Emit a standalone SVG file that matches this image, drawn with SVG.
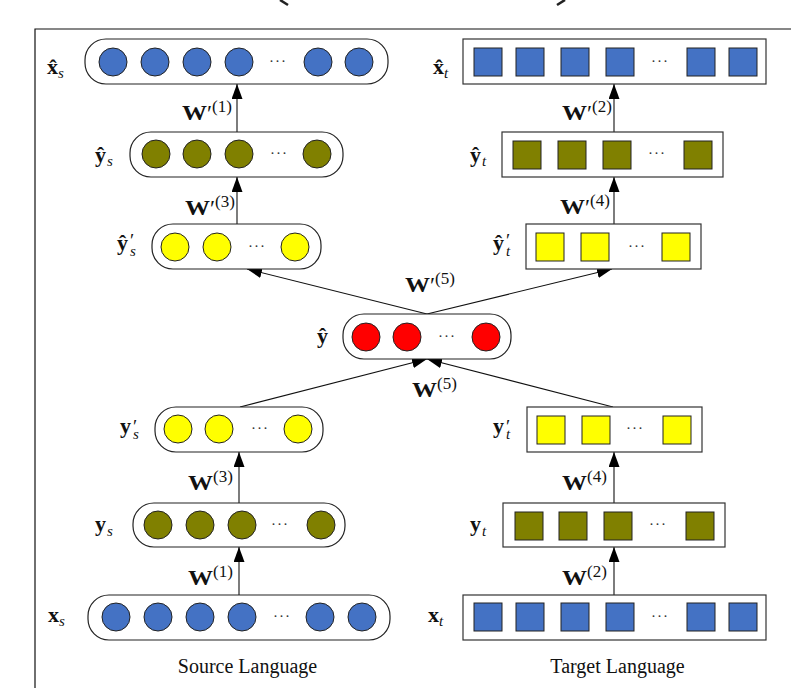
<svg xmlns="http://www.w3.org/2000/svg" width="791" height="688" viewBox="0 0 791 688">
<defs>
<style>
.pill{fill:#fff;stroke:#222;stroke-width:1.2}
.box{fill:#fff;stroke:#333;stroke-width:1.2}
.u{stroke:#222;stroke-width:1}
.blue{fill:#4472C4}
.olive{fill:#808000}
.yellow{fill:#FFFF00}
.red{fill:#FF0000}
.dots{font-family:"Liberation Serif",serif;font-size:15px;fill:#333;text-anchor:middle;letter-spacing:1px}
.lbl{font-family:"Liberation Serif",serif;font-weight:bold;font-size:22px;fill:#111}
.sub{font-style:italic;font-weight:normal;font-size:15px}
.pr{font-weight:normal;font-size:19px}
.w{font-family:"Liberation Serif",serif;font-weight:bold;font-size:22px;fill:#111}
.wp{font-family:"Liberation Serif",serif;font-size:23px;fill:#111}
.ws{font-family:"Liberation Serif",serif;font-size:17px;fill:#111}
.edge{stroke:#111;stroke-width:1.1;fill:none;marker-end:url(#ah)}
.cap{font-family:"Liberation Serif",serif;font-size:20px;fill:#111;text-anchor:middle}
</style>
<marker id="ah" viewBox="0 0 15 11" refX="15" refY="5.5" markerWidth="15" markerHeight="11" markerUnits="userSpaceOnUse" orient="auto">
<path d="M0,0 L15,5.5 L0,11 z" fill="#000"/>
</marker>
</defs>
<rect width="791" height="688" fill="#fff"/>
<g id="frame">
<path d="M791,29 H35 V688" fill="none" stroke="#111" stroke-width="1.2"/>
<path d="M280,0 L288,5" stroke="#222" stroke-width="2.6" fill="none"/>
<path d="M565,0 L557,5" stroke="#222" stroke-width="2.6" fill="none"/>
</g>

<g id="connectors">
<line class="edge" x1="237" y1="132" x2="237" y2="84"/>
<line class="edge" x1="614" y1="132" x2="614" y2="84"/>
<line class="edge" x1="237" y1="224" x2="237" y2="177"/>
<line class="edge" x1="614" y1="224" x2="614" y2="177"/>
<line class="edge" x1="427" y1="314" x2="247" y2="269"/>
<line class="edge" x1="427" y1="314" x2="612" y2="269"/>
<line class="edge" x1="240" y1="407" x2="427" y2="359"/>
<line class="edge" x1="613" y1="407" x2="427" y2="359"/>
<line class="edge" x1="239" y1="503" x2="239" y2="452"/>
<line class="edge" x1="614" y1="503" x2="614" y2="452"/>
<line class="edge" x1="239" y1="595" x2="239" y2="547"/>
<line class="edge" x1="614" y1="595" x2="614" y2="547"/>
</g>

<g id="edge-labels">
<text class="w" x="182" y="120" textLength="25" lengthAdjust="spacingAndGlyphs">W</text><text class="wp" x="207" y="121">′</text><text class="ws" x="212" y="112">(1)</text>
<text class="w" x="562" y="120" textLength="25" lengthAdjust="spacingAndGlyphs">W</text><text class="wp" x="587" y="121">′</text><text class="ws" x="592" y="112">(2)</text>
<text class="w" x="185" y="215" textLength="25" lengthAdjust="spacingAndGlyphs">W</text><text class="wp" x="210" y="216">′</text><text class="ws" x="215" y="207">(3)</text>
<text class="w" x="560" y="214" textLength="25" lengthAdjust="spacingAndGlyphs">W</text><text class="wp" x="585" y="215">′</text><text class="ws" x="590" y="206">(4)</text>
<text class="w" x="405" y="292" textLength="25" lengthAdjust="spacingAndGlyphs">W</text><text class="wp" x="430" y="293">′</text><text class="ws" x="435" y="284">(5)</text>
<text class="w" x="412" y="397" textLength="25" lengthAdjust="spacingAndGlyphs">W</text><text class="ws" x="437" y="389">(5)</text>
<text class="w" x="188" y="490" textLength="25" lengthAdjust="spacingAndGlyphs">W</text><text class="ws" x="213" y="482">(3)</text>
<text class="w" x="562" y="490" textLength="25" lengthAdjust="spacingAndGlyphs">W</text><text class="ws" x="587" y="482">(4)</text>
<text class="w" x="188" y="585" textLength="25" lengthAdjust="spacingAndGlyphs">W</text><text class="ws" x="213" y="577">(1)</text>
<text class="w" x="562" y="585" textLength="25" lengthAdjust="spacingAndGlyphs">W</text><text class="ws" x="587" y="577">(2)</text>
</g>

<g id="node-xhat-s">
<rect class="pill" x="85" y="39" width="303" height="45" rx="21"/>
<circle class="u blue" cx="113" cy="62" r="14"/>
<circle class="u blue" cx="155" cy="62" r="14"/>
<circle class="u blue" cx="197" cy="62" r="14"/>
<circle class="u blue" cx="239" cy="62" r="14"/>
<text class="dots" x="278" y="66">···</text>
<circle class="u blue" cx="318" cy="62" r="14"/>
<circle class="u blue" cx="359" cy="62" r="14"/>
<text class="lbl" x="47" y="74">x̂<tspan class="sub" x="58" y="78">s</tspan></text>
</g>

<g id="node-yhat-s">
<rect class="pill" x="130" y="132" width="213" height="45" rx="21"/>
<circle class="u olive" cx="156" cy="154" r="14"/>
<circle class="u olive" cx="197" cy="154" r="14"/>
<circle class="u olive" cx="239" cy="154" r="14"/>
<text class="dots" x="279" y="158">···</text>
<circle class="u olive" cx="317" cy="154" r="14"/>
<text class="lbl" x="95" y="162">ŷ<tspan class="sub" x="107" y="166">s</tspan></text>
</g>

<g id="node-yhatp-s">
<rect class="pill" x="152" y="224" width="169" height="45" rx="21"/>
<circle class="u yellow" cx="175" cy="247" r="14"/>
<circle class="u yellow" cx="217" cy="247" r="14"/>
<text class="dots" x="257" y="251">···</text>
<circle class="u yellow" cx="295" cy="247" r="14"/>
<text class="lbl" x="117" y="250">ŷ<tspan class="pr" x="130" y="247">′</tspan><tspan class="sub" x="130" y="256">s</tspan></text>
</g>

<g id="node-yhat">
<rect class="pill" x="343" y="314" width="168" height="45" rx="21"/>
<circle class="u red" cx="366" cy="337" r="14"/>
<circle class="u red" cx="407" cy="337" r="14"/>
<text class="dots" x="447" y="341">···</text>
<circle class="u red" cx="486" cy="337" r="14"/>
<text class="lbl" x="317" y="343">ŷ</text>
</g>

<g id="node-yp-s">
<rect class="pill" x="155" y="407" width="168" height="45" rx="21"/>
<circle class="u yellow" cx="178" cy="429" r="14"/>
<circle class="u yellow" cx="219" cy="429" r="14"/>
<text class="dots" x="260" y="433">···</text>
<circle class="u yellow" cx="298" cy="429" r="14"/>
<text class="lbl" x="120" y="433">y<tspan class="pr" x="133" y="433">′</tspan><tspan class="sub" x="133" y="439">s</tspan></text>
</g>

<g id="node-y-s">
<rect class="pill" x="133" y="503" width="212" height="44" rx="21"/>
<circle class="u olive" cx="158" cy="525" r="14"/>
<circle class="u olive" cx="200" cy="525" r="14"/>
<circle class="u olive" cx="242" cy="525" r="14"/>
<text class="dots" x="280" y="529">···</text>
<circle class="u olive" cx="321" cy="525" r="14"/>
<text class="lbl" x="95" y="531">y<tspan class="sub" x="107" y="536">s</tspan></text>
</g>

<g id="node-x-s">
<rect class="pill" x="88" y="595" width="302" height="45" rx="21"/>
<circle class="u blue" cx="116" cy="617" r="14"/>
<circle class="u blue" cx="158" cy="617" r="14"/>
<circle class="u blue" cx="200" cy="617" r="14"/>
<circle class="u blue" cx="242" cy="617" r="14"/>
<text class="dots" x="282" y="621">···</text>
<circle class="u blue" cx="320" cy="617" r="14"/>
<circle class="u blue" cx="362" cy="617" r="14"/>
<text class="lbl" x="48" y="622">x<tspan class="sub" x="59" y="626">s</tspan></text>
<text class="cap" x="247.5" y="673">Source Language</text>
</g>

<g id="node-xhat-t">
<rect class="box" x="463" y="39" width="303" height="45"/>
<rect class="u blue" x="474" y="48" width="28" height="28"/>
<rect class="u blue" x="516" y="48" width="28" height="28"/>
<rect class="u blue" x="561" y="48" width="28" height="28"/>
<rect class="u blue" x="606" y="48" width="28" height="28"/>
<text class="dots" x="660" y="66">···</text>
<rect class="u blue" x="687" y="48" width="28" height="28"/>
<rect class="u blue" x="729" y="48" width="28" height="28"/>
<text class="lbl" x="433" y="74">x̂<tspan class="sub" x="444" y="78">t</tspan></text>
</g>

<g id="node-yhat-t">
<rect class="box" x="502" y="132" width="221" height="45"/>
<rect class="u olive" x="513" y="141" width="28" height="28"/>
<rect class="u olive" x="558" y="141" width="28" height="28"/>
<rect class="u olive" x="603" y="141" width="28" height="28"/>
<text class="dots" x="657" y="158">···</text>
<rect class="u olive" x="684" y="141" width="28" height="28"/>
<text class="lbl" x="470" y="162">ŷ<tspan class="sub" x="482" y="166">t</tspan></text>
</g>

<g id="node-yhatp-t">
<rect class="box" x="526" y="224" width="175" height="45"/>
<rect class="u yellow" x="536" y="233" width="28" height="28"/>
<rect class="u yellow" x="581" y="233" width="28" height="28"/>
<text class="dots" x="637" y="251">···</text>
<rect class="u yellow" x="662" y="233" width="28" height="28"/>
<text class="lbl" x="493" y="250">ŷ<tspan class="pr" x="506" y="247">′</tspan><tspan class="sub" x="506" y="256">t</tspan></text>
</g>

<g id="node-yp-t">
<rect class="box" x="527" y="407" width="175" height="45"/>
<rect class="u yellow" x="537" y="416" width="28" height="28"/>
<rect class="u yellow" x="582" y="416" width="28" height="28"/>
<text class="dots" x="635" y="433">···</text>
<rect class="u yellow" x="663" y="416" width="28" height="28"/>
<text class="lbl" x="493" y="433">y<tspan class="pr" x="506" y="433">′</tspan><tspan class="sub" x="506" y="439">t</tspan></text>
</g>

<g id="node-y-t">
<rect class="box" x="503" y="503" width="222" height="44"/>
<rect class="u olive" x="515" y="512" width="28" height="28"/>
<rect class="u olive" x="559" y="512" width="28" height="28"/>
<rect class="u olive" x="604" y="512" width="28" height="28"/>
<text class="dots" x="658" y="529">···</text>
<rect class="u olive" x="686" y="512" width="28" height="28"/>
<text class="lbl" x="470" y="531">y<tspan class="sub" x="482" y="536">t</tspan></text>
</g>

<g id="node-x-t">
<rect class="box" x="463" y="595" width="303" height="45"/>
<rect class="u blue" x="474" y="603" width="28" height="28"/>
<rect class="u blue" x="516" y="603" width="28" height="28"/>
<rect class="u blue" x="561" y="603" width="28" height="28"/>
<rect class="u blue" x="606" y="603" width="28" height="28"/>
<text class="dots" x="660" y="621">···</text>
<rect class="u blue" x="687" y="603" width="28" height="28"/>
<rect class="u blue" x="729" y="603" width="28" height="28"/>
<text class="lbl" x="428" y="622">x<tspan class="sub" x="439" y="626">t</tspan></text>
<text class="cap" x="617.5" y="673">Target Language</text>
</g>
</svg>
